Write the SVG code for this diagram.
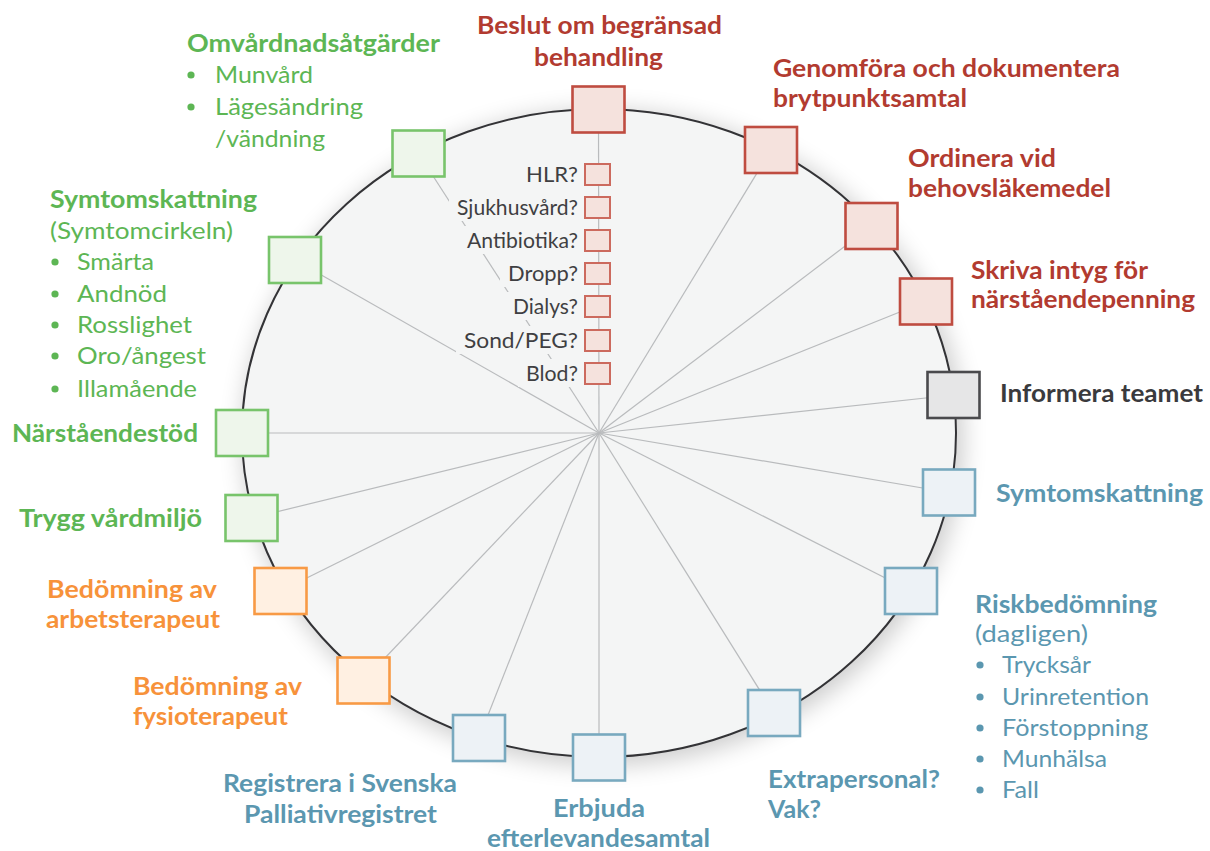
<svg xmlns="http://www.w3.org/2000/svg" width="1210" height="851" viewBox="0 0 1210 851">
<style>
text{font-family:Lato,"Open Sans","DejaVu Sans",sans-serif;}
.b{font-size:24.5px;font-weight:700;}
.r{font-size:23px;font-weight:400;}
.s{font-size:21px;font-weight:400;fill:#3f3f42;}
.red{fill:#b23b30;}
.grn{fill:#5db654;}
.org{fill:#f7923a;}
.blu{fill:#5b97b0;}
.drk{fill:#3a3a3d;}
.bx{stroke-width:2.6;}
.bred{fill:#f5e2dd;stroke:#bf4c40;}
.bgrn{fill:#eef6eb;stroke:#78c46b;}
.borg{fill:#fff0e2;stroke:#f89a45;}
.bblu{fill:#edf2f6;stroke:#78a9bf;}
.bdrk{fill:#e6e6e7;stroke:#4a4a4d;}
.sb{fill:#f5e2dd;stroke:#cc6a5e;stroke-width:2;}
.sp{stroke:#b9bbbd;stroke-width:1.2;}
.lb{fill:#f4f5f5;}
</style>
<defs>
<filter id="sh" x="-20%" y="-20%" width="140%" height="140%">
<feGaussianBlur stdDeviation="12"/>
</filter>
</defs>
<rect width="1210" height="851" fill="#ffffff"/>
<ellipse cx="603" cy="438" rx="360" ry="327" fill="#000" opacity="0.2" filter="url(#sh)"/>
<ellipse id="ring" cx="599" cy="433" rx="357" ry="324" fill="#f4f5f5" stroke="#333336" stroke-width="2"/>
<g id="connectors" class="sp">
<line x1="599" y1="433" x2="598.5" y2="109.5"/>
<line x1="599" y1="433" x2="771" y2="150"/>
<line x1="599" y1="433" x2="871.5" y2="226"/>
<line x1="599" y1="433" x2="926" y2="301.5"/>
<line x1="599" y1="433" x2="953.5" y2="395"/>
<line x1="599" y1="433" x2="949" y2="492.5"/>
<line x1="599" y1="433" x2="911" y2="591"/>
<line x1="599" y1="433" x2="774" y2="713"/>
<line x1="599" y1="433" x2="599" y2="757.5"/>
<line x1="599" y1="433" x2="479" y2="738"/>
<line x1="599" y1="433" x2="363.5" y2="680.5"/>
<line x1="599" y1="433" x2="280.5" y2="591"/>
<line x1="599" y1="433" x2="251.5" y2="518"/>
<line x1="599" y1="433" x2="242" y2="433"/>
<line x1="599" y1="433" x2="295" y2="260"/>
<line x1="599" y1="433" x2="418.5" y2="153.5"/>
</g>
<g id="checklist">
<rect class="lb" x="518" y="160" width="62" height="28"/>
<rect class="lb" x="449" y="193" width="131" height="28"/>
<rect class="lb" x="459" y="226" width="121" height="28"/>
<rect class="lb" x="500" y="259" width="80" height="28"/>
<rect class="lb" x="505" y="292" width="75" height="28"/>
<rect class="lb" x="456" y="326" width="124" height="28"/>
<rect class="lb" x="518" y="359" width="62" height="28"/>
<rect class="sb" x="585" y="164" width="25" height="21"/>
<rect class="sb" x="585" y="197" width="25" height="21"/>
<rect class="sb" x="585" y="230" width="25" height="21"/>
<rect class="sb" x="585" y="263" width="25" height="21"/>
<rect class="sb" x="585" y="296" width="25" height="21"/>
<rect class="sb" x="585" y="330" width="25" height="21"/>
<rect class="sb" x="585" y="363" width="25" height="21"/>
<text class="s" x="526" y="182" textLength="52" lengthAdjust="spacingAndGlyphs">HLR?</text>
<text class="s" x="457" y="215" textLength="121" lengthAdjust="spacingAndGlyphs">Sjukhusvård?</text>
<text class="s" x="467" y="248" textLength="111" lengthAdjust="spacingAndGlyphs">Antibiotika?</text>
<text class="s" x="508" y="281" textLength="70" lengthAdjust="spacingAndGlyphs">Dropp?</text>
<text class="s" x="513" y="314" textLength="65" lengthAdjust="spacingAndGlyphs">Dialys?</text>
<text class="s" x="464" y="348" textLength="114" lengthAdjust="spacingAndGlyphs">Sond/PEG?</text>
<text class="s" x="526" y="381" textLength="52" lengthAdjust="spacingAndGlyphs">Blod?</text>
</g>
<g id="beslut">
<rect class="bx bred" x="572.5" y="86.5" width="52" height="46"/>
<text class="b red" x="477" y="34" textLength="245" lengthAdjust="spacingAndGlyphs">Beslut om begränsad</text>
<text class="b red" x="534" y="66" textLength="129" lengthAdjust="spacingAndGlyphs">behandling</text>
</g>
<g id="genomfora">
<rect class="bx bred" x="745" y="127" width="52" height="46"/>
<text class="b red" x="773" y="77" textLength="347" lengthAdjust="spacingAndGlyphs">Genomföra och dokumentera</text>
<text class="b red" x="773" y="107" textLength="194" lengthAdjust="spacingAndGlyphs">brytpunktsamtal</text>
</g>
<g id="ordinera">
<rect class="bx bred" x="845.5" y="203" width="52" height="46"/>
<text class="b red" x="908" y="167" textLength="148" lengthAdjust="spacingAndGlyphs">Ordinera vid</text>
<text class="b red" x="908" y="197" textLength="203" lengthAdjust="spacingAndGlyphs">behovsläkemedel</text>
</g>
<g id="skriva">
<rect class="bx bred" x="900" y="278.5" width="52" height="46"/>
<text class="b red" x="971" y="279" textLength="177" lengthAdjust="spacingAndGlyphs">Skriva intyg för</text>
<text class="b red" x="971" y="308" textLength="224" lengthAdjust="spacingAndGlyphs">närståendepenning</text>
</g>
<g id="informera">
<rect class="bx bdrk" x="927.5" y="372" width="52" height="46"/>
<text class="b drk" x="1000" y="402" textLength="203" lengthAdjust="spacingAndGlyphs">Informera teamet</text>
</g>
<g id="symtom-blue">
<rect class="bx bblu" x="923" y="469.5" width="52" height="46"/>
<text class="b blu" x="996" y="502" textLength="207" lengthAdjust="spacingAndGlyphs">Symtomskattning</text>
</g>
<g id="risk">
<rect class="bx bblu" x="885" y="568" width="52" height="46"/>
<text class="b blu" x="975" y="613" textLength="182" lengthAdjust="spacingAndGlyphs">Riskbedömning</text>
<text class="r blu" x="975" y="642" textLength="113" lengthAdjust="spacingAndGlyphs">(dagligen)</text>
<circle class="blu" cx="980" cy="665" r="3.6"/>
<circle class="blu" cx="980" cy="697" r="3.6"/>
<circle class="blu" cx="980" cy="728" r="3.6"/>
<circle class="blu" cx="980" cy="759" r="3.6"/>
<circle class="blu" cx="980" cy="790" r="3.6"/>
<text class="r blu" x="1002" y="673" textLength="89" lengthAdjust="spacingAndGlyphs">Trycksår</text>
<text class="r blu" x="1002" y="705" textLength="147" lengthAdjust="spacingAndGlyphs">Urinretention</text>
<text class="r blu" x="1002" y="736" textLength="146" lengthAdjust="spacingAndGlyphs">Förstoppning</text>
<text class="r blu" x="1002" y="767" textLength="105" lengthAdjust="spacingAndGlyphs">Munhälsa</text>
<text class="r blu" x="1002" y="798" textLength="37" lengthAdjust="spacingAndGlyphs">Fall</text>
</g>
<g id="extrapersonal">
<rect class="bx bblu" x="748" y="690" width="52" height="46"/>
<text class="b blu" x="768" y="788" textLength="172" lengthAdjust="spacingAndGlyphs">Extrapersonal?</text>
<text class="b blu" x="768" y="818" textLength="53" lengthAdjust="spacingAndGlyphs">Vak?</text>
</g>
<g id="erbjuda">
<rect class="bx bblu" x="573" y="734.5" width="52" height="46"/>
<text class="b blu" x="553" y="817" textLength="92" lengthAdjust="spacingAndGlyphs">Erbjuda</text>
<text class="b blu" x="487" y="847" textLength="223" lengthAdjust="spacingAndGlyphs">efterlevandesamtal</text>
</g>
<g id="registrera">
<rect class="bx bblu" x="453" y="715" width="52" height="46"/>
<text class="b blu" x="223" y="792" textLength="234" lengthAdjust="spacingAndGlyphs">Registrera i Svenska</text>
<text class="b blu" x="244" y="823" textLength="193" lengthAdjust="spacingAndGlyphs">Palliativregistret</text>
</g>
<g id="fysio">
<rect class="bx borg" x="337.5" y="657.5" width="52" height="46"/>
<text class="b org" x="133" y="695" textLength="169" lengthAdjust="spacingAndGlyphs">Bedömning av</text>
<text class="b org" x="133" y="725" textLength="155" lengthAdjust="spacingAndGlyphs">fysioterapeut</text>
</g>
<g id="arbets">
<rect class="bx borg" x="254.5" y="568" width="52" height="46"/>
<text class="b org" x="47" y="598" textLength="170" lengthAdjust="spacingAndGlyphs">Bedömning av</text>
<text class="b org" x="46" y="628" textLength="174" lengthAdjust="spacingAndGlyphs">arbetsterapeut</text>
</g>
<g id="trygg">
<rect class="bx bgrn" x="225.5" y="495" width="52" height="46"/>
<text class="b grn" x="19" y="527" textLength="183" lengthAdjust="spacingAndGlyphs">Trygg vårdmiljö</text>
</g>
<g id="narstaende">
<rect class="bx bgrn" x="216" y="410" width="52" height="46"/>
<text class="b grn" x="12" y="442" textLength="186" lengthAdjust="spacingAndGlyphs">Närståendestöd</text>
</g>
<g id="symtom-green">
<rect class="bx bgrn" x="269" y="237" width="52" height="46"/>
<text class="b grn" x="50" y="208" textLength="207" lengthAdjust="spacingAndGlyphs">Symtomskattning</text>
<text class="r grn" x="50" y="239" textLength="183" lengthAdjust="spacingAndGlyphs">(Symtomcirkeln)</text>
<circle class="grn" cx="55" cy="262" r="3.6"/>
<circle class="grn" cx="55" cy="294" r="3.6"/>
<circle class="grn" cx="55" cy="325" r="3.6"/>
<circle class="grn" cx="55" cy="356" r="3.6"/>
<circle class="grn" cx="55" cy="389" r="3.6"/>
<text class="r grn" x="77" y="270" textLength="77" lengthAdjust="spacingAndGlyphs">Smärta</text>
<text class="r grn" x="77" y="302" textLength="90" lengthAdjust="spacingAndGlyphs">Andnöd</text>
<text class="r grn" x="77" y="333" textLength="115" lengthAdjust="spacingAndGlyphs">Rosslighet</text>
<text class="r grn" x="77" y="364" textLength="129" lengthAdjust="spacingAndGlyphs">Oro/ångest</text>
<text class="r grn" x="77" y="397" textLength="120" lengthAdjust="spacingAndGlyphs">Illamående</text>
</g>
<g id="omvardnad">
<rect class="bx bgrn" x="392.5" y="130.5" width="52" height="46"/>
<text class="b grn" x="187" y="52" textLength="253" lengthAdjust="spacingAndGlyphs">Omvårdnadsåtgärder</text>
<circle class="grn" cx="191" cy="75" r="3.6"/>
<circle class="grn" cx="191" cy="107" r="3.6"/>
<text class="r grn" x="215" y="83" textLength="98" lengthAdjust="spacingAndGlyphs">Munvård</text>
<text class="r grn" x="215" y="115" textLength="148" lengthAdjust="spacingAndGlyphs">Lägesändring</text>
<text class="r grn" x="215" y="147" textLength="110" lengthAdjust="spacingAndGlyphs">/vändning</text>
</g>
</svg>
